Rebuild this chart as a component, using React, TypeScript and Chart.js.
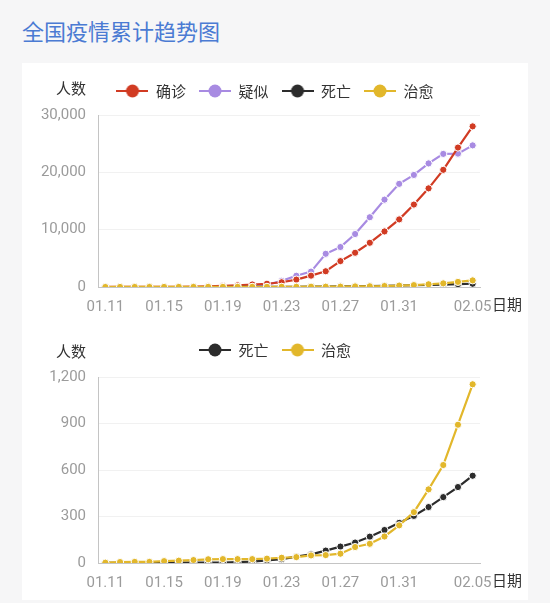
import { useEffect, useRef } from "react";
import Chart from "chart.js/auto";

// 日期（1月11日 - 2月5日）
const dates = [
  "01.11", "01.12", "01.13", "01.14", "01.15", "01.16", "01.17", "01.18", "01.19", "01.20",
  "01.21", "01.22", "01.23", "01.24", "01.25", "01.26", "01.27", "01.28", "01.29", "01.30",
  "01.31", "02.01", "02.02", "02.03", "02.04", "02.05",
];
const shownDates = ["01.11", "01.15", "01.19", "01.23", "01.27", "01.31", "02.05"];

const confirmed = [
  41, 41, 41, 41, 41, 45, 62, 121, 198, 291, 440, 571, 830, 1287, 1975, 2744, 4515, 5974,
  7711, 9692, 11791, 14380, 17205, 20438, 24324, 28018,
];
const suspected = [
  0, 0, 0, 0, 0, 0, 0, 0, 0, 0, 37, 393, 1072, 1965, 2684, 5794, 6973, 9239, 12167, 15238,
  17988, 19544, 21558, 23214, 23260, 24702,
];
const deaths = [
  1, 1, 1, 1, 2, 2, 2, 3, 3, 6, 9, 17, 25, 41, 56, 80, 106, 132, 170, 213, 259, 304, 361,
  425, 490, 563,
];
const cured = [
  2, 6, 7, 7, 12, 15, 19, 24, 25, 25, 25, 28, 34, 38, 49, 51, 60, 103, 124, 171, 243, 328,
  475, 632, 892, 1153,
];

const totalTicks = [0, 10000, 20000, 30000];
const smallTicks = [0, 300, 600, 900, 1200];

const RED = "#d13b23";
const PURPLE = "#a88be2";
const BLACK = "#2c2c2c";
const GOLD = "#e2b72b";

const CJK = "'Noto Sans CJK SC', 'Noto Sans', sans-serif";
const NUM = "Roboto, 'Noto Sans', sans-serif";

// 图例标记：横线 + 圆点
function legendMark(color: string) {
  const c = document.createElement("canvas");
  c.width = 32;
  c.height = 14;
  const ctx = c.getContext("2d");
  if (!ctx) return c;
  ctx.strokeStyle = color;
  ctx.lineWidth = 2;
  ctx.beginPath();
  ctx.moveTo(0, 7);
  ctx.lineTo(32, 7);
  ctx.stroke();
  ctx.fillStyle = color;
  ctx.beginPath();
  ctx.arc(16, 7, 6.5, 0, Math.PI * 2);
  ctx.fill();
  return c;
}

function series(label: string, data: number[], color: string, order: number) {
  return {
    label,
    data,
    order,
    borderColor: color,
    backgroundColor: color,
    borderWidth: 2.2,
    pointRadius: 3.6,
    pointHoverRadius: 3.6,
    pointBackgroundColor: color,
    pointBorderColor: "#fff",
    pointBorderWidth: 1,
  };
}

function makeChart(
  canvas: HTMLCanvasElement,
  datasets: any[],
  ticks: number[],
  pad: { top: number; gap: number; bottom: number }
) {
  return new Chart(canvas, {
    type: "line",
    data: { labels: dates, datasets },
    options: {
      animation: false,
      responsive: false,
      layout: { padding: { left: 0, right: 0, top: pad.top, bottom: pad.bottom } },
      plugins: {
        tooltip: { enabled: false },
        // 图例和绘图区之间的空隙
        subtitle: {
          display: true,
          text: " ",
          weight: 500,
          padding: 0,
          font: { size: pad.gap, lineHeight: 1 },
        },
        legend: {
          labels: {
            usePointStyle: true,
            pointStyleWidth: 32,
            padding: 13,
            color: "#333",
            font: { family: CJK, size: 15 },
            generateLabels: (chart: any) =>
              Chart.defaults.plugins.legend.labels.generateLabels(chart).map((item: any) => ({
                ...item,
                pointStyle: legendMark(chart.data.datasets[item.datasetIndex].borderColor),
              })),
            sort: (a: any, b: any) => a.datasetIndex - b.datasetIndex,
          },
        },
      },
      scales: {
        x: {
          offset: true,
          grid: { display: false },
          border: { color: "#c4c4c4", width: 1 },
          ticks: {
            autoSkip: false,
            maxRotation: 0,
            padding: 3,
            color: "#9b9b9b",
            font: { family: NUM, size: 15 },
            callback: (_v: any, i: number) => (shownDates.includes(dates[i]) ? dates[i] : ""),
          },
          afterFit: (s: any) => {
            s.height = 30;
            // 右侧留给“日期”
            s.paddingRight = 48;
          },
        },
        y: {
          min: 0,
          max: ticks[ticks.length - 1],
          grid: { color: "#f1f1f1", drawTicks: false },
          border: { color: "#c4c4c4", width: 1 },
          ticks: {
            stepSize: ticks[1],
            padding: 12,
            color: "#9b9b9b",
            font: { family: NUM, size: 15 },
            callback: (v: any) => Number(v).toLocaleString("en-US"),
          },
          afterFit: (s: any) => {
            s.width = 76;
          },
        },
      },
    },
  } as any);
}

const cjkLabel = (left: number, centerY: number) => ({
  position: "absolute" as const,
  left,
  top: centerY - 7.5,
  font: `15px ${CJK}`,
  lineHeight: "15px",
  color: "#333",
  whiteSpace: "nowrap" as const,
});

export default function App() {
  const topRef = useRef<HTMLCanvasElement | null>(null);
  const bottomRef = useRef<HTMLCanvasElement | null>(null);

  useEffect(() => {
    const top = topRef.current;
    const bottom = bottomRef.current;
    if (!top || !bottom) return;

    const all = makeChart(
      top,
      [
        series("确诊", confirmed, RED, 2),
        series("疑似", suspected, PURPLE, 3),
        series("死亡", deaths, BLACK, 1),
        series("治愈", cured, GOLD, 0),
      ],
      totalTicks,
      { top: 7.5, gap: 6.5, bottom: 8 }
    );
    const small = makeChart(
      bottom,
      [series("死亡", deaths, BLACK, 1), series("治愈", cured, GOLD, 0)],
      smallTicks,
      { top: 4.5, gap: 9.5, bottom: 7 }
    );

    return () => {
      all.destroy();
      small.destroy();
    };
  }, []);

  return (
    <div
      style={{
        position: "absolute",
        left: 0,
        top: 0,
        width: 550,
        height: 603,
        background: "#f6f6f7",
        overflow: "hidden",
      }}
    >
      <div
        style={{
          position: "absolute",
          left: 22,
          top: 19,
          font: `22px ${CJK}`,
          lineHeight: "22px",
          color: "#4b7bd3",
          whiteSpace: "nowrap",
        }}
      >
        全国疫情累计趋势图
      </div>
      <div
        style={{
          position: "absolute",
          left: 22,
          top: 63,
          width: 506,
          height: 537,
          background: "#fff",
        }}
      >
        <canvas ref={topRef} width={506} height={262} style={{ position: "absolute", left: 0, top: 0 }} />
        <canvas ref={bottomRef} width={506} height={275} style={{ position: "absolute", left: 0, top: 262 }} />
        <span style={cjkLabel(34, 24)}>人数</span>
        <span style={cjkLabel(470, 240)}>日期</span>
        <span style={cjkLabel(34, 287)}>人数</span>
        <span style={cjkLabel(470, 516)}>日期</span>
      </div>
    </div>
  );
}
